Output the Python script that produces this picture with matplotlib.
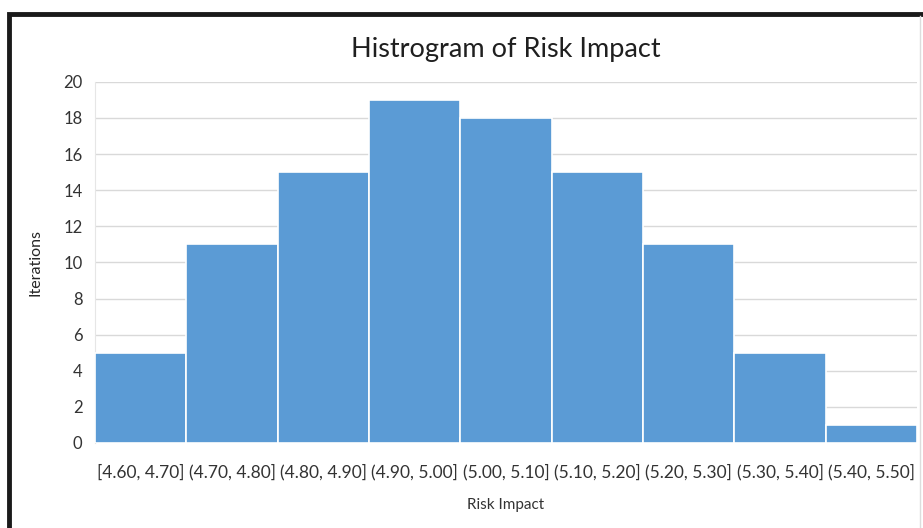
import matplotlib.pyplot as plt
from matplotlib.patches import Rectangle

bins = ["[4.60, 4.70]", "(4.70, 4.80]", "(4.80, 4.90]", "(4.90, 5.00]", "(5.00, 5.10]",
        "(5.10, 5.20]", "(5.20, 5.30]", "(5.30, 5.40]", "(5.40, 5.50]"]
counts = [5, 11, 15, 19, 18, 15, 11, 5, 1]

plt.rcParams['font.family'] = ['Liberation Sans Narrow', 'Lato', 'DejaVu Sans']

fig = plt.figure(figsize=(9.23, 5.28), dpi=100)
ax = fig.add_axes([0.103, 0.161, 0.8905, 0.684])

x = list(range(len(bins)))
ax.bar(x, counts, width=1.0, color="#5B9BD5", edgecolor="white", linewidth=1.2, zorder=3)

ax.set_xlim(-0.5, len(bins) - 0.5)
ax.set_ylim(0, 20)
ax.set_yticks(range(0, 21, 2))
ax.set_xticks(x)
ax.set_xticklabels(bins, fontsize=12.5, color="#333333")
ax.tick_params(axis="y", labelsize=12, labelcolor="#333333", length=0, pad=9)
ax.tick_params(axis="x", length=0, pad=15)
ax.grid(axis="y", color="#D9D9D9", linewidth=1, zorder=0)

for side in ["top", "right", "bottom"]:
    ax.spines[side].set_visible(False)
ax.spines["left"].set_color("#E6E6E6")

ax.set_title("Histrogram of Risk Impact", fontsize=19.5, color="#1F1F1F", pad=18)
ax.set_xlabel("Risk Impact", fontsize=11, color="#333333", labelpad=13)
ax.set_ylabel("Iterations", fontsize=11.5, color="#262626")
ax.yaxis.set_label_coords(-0.064, 0.5)

# outer frame around the chart
fig.patches.append(Rectangle((9 / 923, -0.1), 1.2, 1.1 - 14 / 528, transform=fig.transFigure,
                             fill=False, edgecolor="#1A1A1A", linewidth=3.5))
fig.add_artist(plt.Line2D([920 / 923, 920 / 923], [0, 1 - 16 / 528], transform=fig.transFigure,
                          color="#DDDDDD", linewidth=1))

fig.savefig("out.png", dpi=100)
